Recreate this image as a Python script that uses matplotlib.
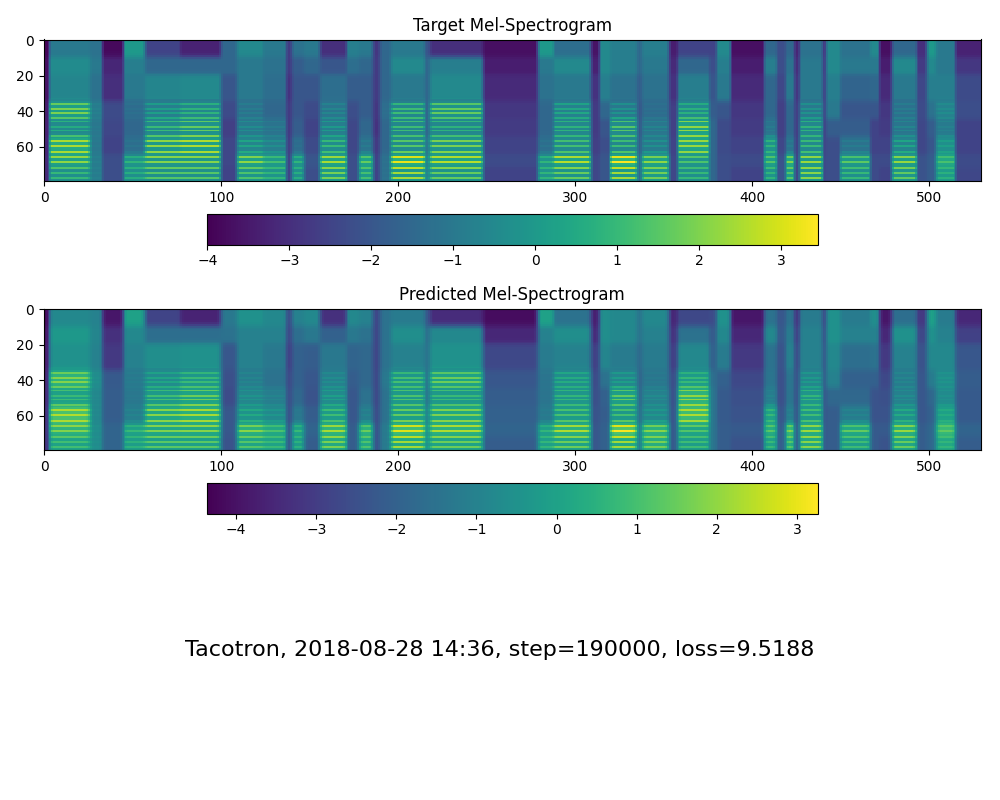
import numpy as np
import matplotlib
matplotlib.use("Agg")
import matplotlib.pyplot as plt

N_FRAMES = 530
N_MELS = 80
# band row boundaries (row 0 = top of image = highest mel bin)
BAND_EDGES = [0, 10, 20, 35, 45, 55, 65, 72, 80]
# rows of visible harmonic stripes
HARMONIC_ROWS = [78, 75, 72, 69, 66, 63, 60, 57, 54, 51, 49, 46, 44, 41, 39, 36]

TARGET_VMIN, TARGET_VMAX = -4.0, 3.45
PRED_VMIN, PRED_VMAX = -4.36, 3.26

SIL = [-3.7, -3.4, -3.1, -2.8, -2.7, -2.5, -2.3, -2.5]

# (start frame, end frame, band levels top->bottom, harmonic strength)
target_segments = [
    (0, 3, [-3.9, -3.7, -3.6, -3.4, -3.3, -3.2, -3.1, -3.1], 0.0),
    (3, 26, [-1.0, -0.4, -0.6, 1.3, 0.2, 1.8, 1.5, 0.5], 1.0),
    (26, 33, [-1.2, -1.0, -1.2, -0.8, -1.0, -1.0, -0.8, -0.8], 0.3),
    (33, 45, [-3.8, -3.2, -3.0, -2.3, -2.4, -2.5, -2.2, -2.2], 0.0),
    (45, 57, [0.0, -0.8, -1.0, -1.3, -1.5, -1.2, 0.5, 0.3], 0.8),
    (57, 77, [-2.5, -1.5, -0.6, -0.2, 0.5, 1.4, 1.3, 0.8], 1.2),
    (77, 100, [-3.3, -1.5, -0.5, 0.3, 1.0, 1.7, 1.3, 0.8], 1.2),
    (100, 109, [-1.5, -1.5, -2.0, -2.3, -2.6, -2.4, -2.4, -2.5], 0.0),
    (109, 124, [-0.5, -1.0, -1.0, -1.0, -0.6, 0.0, 1.5, 0.8], 1.0),
    (124, 137, [-1.0, -1.2, -1.3, -1.5, -1.0, -0.5, 0.8, 0.5], 0.8),
    (137, 140, [-2.7, -2.7, -2.9, -2.7, -2.7, -2.6, -2.5, -2.5], 0.0),
    (140, 147, [-1.2, -1.8, -2.0, -2.0, -1.8, -1.3, 0.5, 0.3], 0.8),
    (147, 156, [-1.0, -1.5, -2.0, -2.3, -2.5, -2.3, -2.0, -2.2], 0.0),
    (156, 171, [-3.0, -2.0, -1.3, -0.8, -0.3, 0.5, 1.7, 1.2], 1.1),
    (171, 178, [-0.8, -1.3, -1.8, -2.2, -2.4, -2.4, -2.2, -2.2], 0.0),
    (178, 186, [-1.0, -1.5, -1.8, -1.8, -1.5, -1.0, 1.2, 0.8], 0.8),
    (186, 190, [-2.8, -2.7, -2.7, -2.8, -2.9, -2.7, -2.5, -2.5], 0.0),
    (190, 196, [-1.5, -1.5, -1.5, -1.3, -1.5, -1.5, -1.2, -1.2], 0.3),
    (196, 215, [-1.0, -0.5, -1.0, 0.5, 0.5, 0.8, 2.3, 1.5], 1.3),
    (215, 218, [-2.0, -1.5, -1.5, -1.5, -1.5, -1.0, -0.5, -0.5], 0.3),
    (218, 248, [-3.0, -0.8, -0.5, 1.0, 0.3, 1.2, 1.8, 1.0], 1.2),
    (248, 279, SIL, 0.0),
    (279, 288, [0.0, -1.0, -1.2, -1.5, -1.5, -1.2, 0.5, 0.5], 0.8),
    (288, 309, [-1.3, -0.5, -1.0, 0.0, 0.3, 0.6, 1.8, 1.0], 1.2),
    (309, 314, [-3.6, -3.3, -2.9, -2.7, -2.7, -2.6, -2.4, -2.4], 0.0),
    (314, 320, [-0.5, -0.5, -0.8, -1.5, -2.0, -2.2, -2.0, -2.0], 0.0),
    (320, 335, [-0.8, -0.8, -1.2, -0.5, 0.8, 0.5, 2.5, 1.5], 1.3),
    (335, 338, [-1.5, -1.5, -1.8, -2.0, -2.0, -1.8, -1.5, -1.5], 0.0),
    (338, 353, [-0.8, -1.0, -1.2, -1.3, -0.8, -0.5, 1.5, 1.2], 1.0),
    (353, 358, [-3.4, -3.1, -2.9, -2.6, -2.6, -2.5, -2.4, -2.4], 0.0),
    (358, 376, [-2.5, -1.5, -0.8, 0.3, 1.5, 1.6, 0.8, 0.5], 1.0),
    (376, 380, [-2.5, -2.2, -2.0, -1.8, -1.5, -1.5, -1.5, -1.5], 0.0),
    (380, 388, [-0.5, -0.8, -1.0, -2.0, -2.3, -2.3, -2.2, -2.2], 0.0),
    (388, 407, SIL, 0.0),
    (407, 414, [-1.5, -0.8, -1.5, -1.5, -1.0, 0.5, 1.0, 0.5], 0.8),
    (414, 419, [-2.2, -2.2, -2.4, -2.6, -2.6, -2.4, -2.1, -2.1], 0.0),
    (419, 424, [-1.5, -1.2, -1.0, -1.5, -1.5, -1.0, 1.5, 1.0], 0.8),
    (424, 427, [-3.2, -3.0, -2.8, -2.6, -2.6, -2.5, -2.4, -2.4], 0.0),
    (427, 440, [-1.2, -1.0, -1.0, -0.5, 0.3, 0.5, 1.5, 1.3], 1.2),
    (440, 442, [-3.2, -3.0, -2.8, -2.6, -2.6, -2.5, -2.4, -2.4], 0.0),
    (442, 450, [-0.5, -0.5, -0.8, -1.0, -1.8, -2.2, -2.2, -2.2], 0.0),
    (450, 467, [-1.2, -1.0, -1.6, -2.0, -1.8, -1.0, 1.0, 0.5], 1.0),
    (467, 472, [-0.5, -1.0, -1.5, -2.0, -2.5, -2.5, -2.3, -2.3], 0.0),
    (472, 479, SIL, 0.0),
    (479, 493, [-1.5, -0.5, -1.0, -1.0, -0.8, 0.0, 1.5, 1.0], 1.1),
    (493, 499, [-3.0, -2.7, -2.4, -2.3, -2.4, -2.4, -2.1, -2.1], 0.0),
    (499, 504, [0.0, -0.5, -0.8, -1.2, -1.8, -2.0, -1.8, -1.8], 0.0),
    (504, 515, [-1.0, -1.0, -0.8, -0.5, -0.8, 0.0, 1.0, 0.5], 0.5),
    (515, 530, [-3.3, -2.8, -2.3, -2.2, -2.5, -2.5, -2.3, -2.4], 0.0),
]

pred_segments = [
    (0, 3, [-4.2, -4.0, -3.8, -3.6, -3.5, -3.4, -3.3, -3.3], 0.0),
    (3, 26, [-0.8, -0.3, -0.5, 1.4, 0.5, 1.9, 1.4, 0.6], 0.8),
    (26, 33, [-1.0, -0.9, -1.0, -0.6, -0.8, -0.8, -0.6, -0.6], 0.2),
    (33, 45, [-3.9, -3.3, -3.1, -2.2, -2.1, -2.1, -1.9, -1.9], 0.0),
    (45, 57, [0.0, -0.8, -1.0, -1.2, -1.3, -1.0, 0.5, 0.3], 0.7),
    (57, 77, [-2.8, -1.6, -0.6, -0.2, 0.5, 1.3, 1.2, 0.8], 1.1),
    (77, 100, [-3.6, -1.6, -0.5, 0.4, 1.0, 1.6, 1.3, 0.8], 1.1),
    (100, 109, [-1.3, -1.5, -2.3, -2.5, -2.6, -2.3, -2.3, -2.4], 0.0),
    (109, 124, [-0.5, -1.0, -1.0, -1.0, -0.6, 0.0, 1.4, 0.8], 0.9),
    (124, 137, [-0.8, -1.0, -1.3, -1.5, -1.0, -0.5, 0.8, 0.5], 0.7),
    (137, 140, [-2.7, -2.8, -3.0, -2.7, -2.6, -2.6, -2.5, -2.5], 0.0),
    (140, 147, [-1.0, -1.6, -2.0, -2.0, -1.8, -1.3, 0.5, 0.3], 0.7),
    (147, 156, [-0.8, -1.3, -2.1, -2.3, -2.4, -2.1, -1.9, -2.1], 0.0),
    (156, 171, [-3.3, -2.0, -1.3, -0.8, -0.3, 0.5, 1.7, 1.2], 1.0),
    (171, 178, [-0.8, -1.3, -1.9, -2.1, -2.3, -2.3, -2.1, -2.1], 0.0),
    (178, 186, [-1.0, -1.5, -1.8, -1.8, -1.5, -1.0, 1.2, 0.8], 0.7),
    (186, 190, [-2.8, -2.8, -2.8, -2.7, -2.7, -2.6, -2.5, -2.5], 0.0),
    (190, 196, [-1.5, -1.5, -1.5, -1.3, -1.5, -1.5, -1.2, -1.2], 0.3),
    (196, 215, [-1.2, -0.6, -1.0, 0.5, 0.6, 0.9, 2.2, 1.5], 1.2),
    (215, 218, [-2.2, -1.6, -1.5, -1.5, -1.5, -1.0, -0.5, -0.5], 0.3),
    (218, 248, [-3.4, -0.8, -0.5, 1.0, 0.4, 1.2, 1.7, 1.0], 1.1),
    (248, 279, [-4.1, -3.5, -2.7, -2.3, -2.1, -2.0, -1.9, -2.1], 0.0),
    (279, 288, [0.0, -1.0, -1.2, -1.4, -1.4, -1.2, 0.4, 0.4], 0.7),
    (288, 309, [-1.5, -0.6, -1.0, 0.0, 0.3, 0.6, 1.7, 1.0], 1.1),
    (309, 314, [-3.7, -3.4, -2.9, -2.6, -2.5, -2.4, -2.3, -2.3], 0.0),
    (314, 320, [-0.6, -0.6, -0.9, -1.5, -2.0, -2.1, -2.0, -2.0], 0.0),
    (320, 335, [-0.8, -0.8, -1.2, -0.4, 0.9, 0.5, 2.5, 1.5], 1.2),
    (335, 338, [-1.5, -1.5, -1.8, -2.0, -2.0, -1.8, -1.5, -1.5], 0.0),
    (338, 353, [-0.8, -1.0, -1.2, -1.3, -0.8, -0.5, 1.4, 1.2], 0.9),
    (353, 358, [-3.5, -3.2, -2.9, -2.5, -2.4, -2.3, -2.2, -2.2], 0.0),
    (358, 376, [-2.7, -1.5, -0.8, 0.4, 1.5, 1.8, 0.8, 0.5], 0.9),
    (376, 380, [-2.6, -2.2, -2.0, -1.6, -1.4, -1.4, -1.4, -1.4], 0.0),
    (380, 388, [-0.5, -0.8, -1.2, -2.0, -2.2, -2.2, -2.1, -2.1], 0.0),
    (388, 407, [-3.9, -3.5, -3.1, -2.7, -2.5, -2.4, -2.2, -2.4], 0.0),
    (407, 414, [-1.5, -0.8, -1.5, -1.4, -1.0, 0.5, 1.0, 0.5], 0.7),
    (414, 419, [-2.3, -2.2, -2.4, -2.5, -2.5, -2.3, -2.1, -2.1], 0.0),
    (419, 424, [-1.5, -1.2, -1.0, -1.4, -1.4, -1.0, 1.5, 1.0], 0.7),
    (424, 427, [-3.3, -3.0, -2.7, -2.5, -2.5, -2.4, -2.3, -2.3], 0.0),
    (427, 440, [-1.2, -1.0, -1.0, -0.5, 0.3, 0.5, 1.5, 1.3], 1.1),
    (440, 442, [-3.3, -3.0, -2.7, -2.5, -2.5, -2.4, -2.3, -2.3], 0.0),
    (442, 450, [-0.5, -0.5, -0.8, -1.0, -1.8, -2.1, -2.1, -2.1], 0.0),
    (450, 467, [-1.2, -1.0, -1.6, -2.0, -1.8, -1.0, 1.0, 0.5], 0.9),
    (467, 472, [-0.6, -1.0, -1.5, -2.0, -2.4, -2.4, -2.2, -2.2], 0.0),
    (472, 479, [-3.9, -3.5, -3.1, -2.7, -2.5, -2.4, -2.2, -2.4], 0.0),
    (479, 493, [-1.6, -0.5, -1.0, -1.0, -0.8, 0.0, 1.5, 1.0], 1.0),
    (493, 499, [-3.1, -2.7, -2.4, -2.3, -2.3, -2.3, -2.1, -2.1], 0.0),
    (499, 504, [0.0, -0.5, -0.8, -1.2, -1.8, -2.0, -1.8, -1.8], 0.0),
    (504, 515, [-1.2, -1.0, -0.8, -0.5, -0.6, 0.2, 1.2, 0.5], 0.4),
    (515, 530, [-3.5, -2.9, -2.3, -2.1, -2.2, -2.2, -1.9, -2.1], 0.0),
]

INFO = "Tacotron, 2018-08-28 14:36, step=190000, loss=9.5188"


def smooth(a, axis, passes):
    k = np.array([0.25, 0.5, 0.25])
    for _ in range(passes):
        a = np.apply_along_axis(
            lambda v: np.convolve(np.pad(v, 1, mode="edge"), k, mode="valid"), axis, a)
    return a


def build(segments, t_smooth, f_smooth, stripe_gain):
    base = np.zeros((N_MELS, N_FRAMES))
    harm = np.zeros((N_MELS, N_FRAMES))
    pattern = np.full(N_MELS, -1.2)
    for r in HARMONIC_ROWS:
        pattern[r] = 0.7
    pattern[:34] = 0.0
    for s, e, levels, h in segments:
        for b in range(8):
            base[BAND_EDGES[b]:BAND_EDGES[b + 1], s:e] = levels[b]
        harm[:, s:e] = (h * pattern)[:, None]
    base = smooth(base, 0, f_smooth)
    base = smooth(base, 1, t_smooth)
    harm = smooth(harm, 1, t_smooth)
    # stripes only show where the band carries energy
    weight = np.clip((base + 1.5) / 3.0, 0.0, 1.0)
    return base + stripe_gain * harm * weight


target = build(target_segments, 1, 3, 1.0)
pred = build(pred_segments, 2, 4, 0.85)

fig = plt.figure(figsize=(10, 8), dpi=100)
fig.text(0.5, 0.18, INFO, horizontalalignment='center', fontsize=16)
ax1 = fig.add_subplot(311)
ax2 = fig.add_subplot(312)
ax1.set_title('Target Mel-Spectrogram')
im1 = ax1.imshow(target, interpolation='none', vmin=TARGET_VMIN, vmax=TARGET_VMAX, cmap='viridis')
cb1 = fig.colorbar(mappable=im1, shrink=0.65, orientation='horizontal', ax=ax1)
ax2.set_title('Predicted Mel-Spectrogram')
im2 = ax2.imshow(pred, interpolation='none', vmin=PRED_VMIN, vmax=PRED_VMAX, cmap='viridis')
cb2 = fig.colorbar(mappable=im2, shrink=0.65, orientation='horizontal', ax=ax2)
plt.tight_layout()

# match the reference layout (figure fractions)
ax1.set_position([0.0423, 1 - 181.0 / 800, 0.940, 141.5 / 800])
cb1.ax.set_position([0.2073, 1 - 245.0 / 800, 0.6104, 30.8 / 800])
ax2.set_position([0.0423, 1 - 450.0 / 800, 0.940, 141.5 / 800])
cb2.ax.set_position([0.2073, 1 - 514.0 / 800, 0.6104, 30.8 / 800])

fig.savefig("out.png", dpi=100)
